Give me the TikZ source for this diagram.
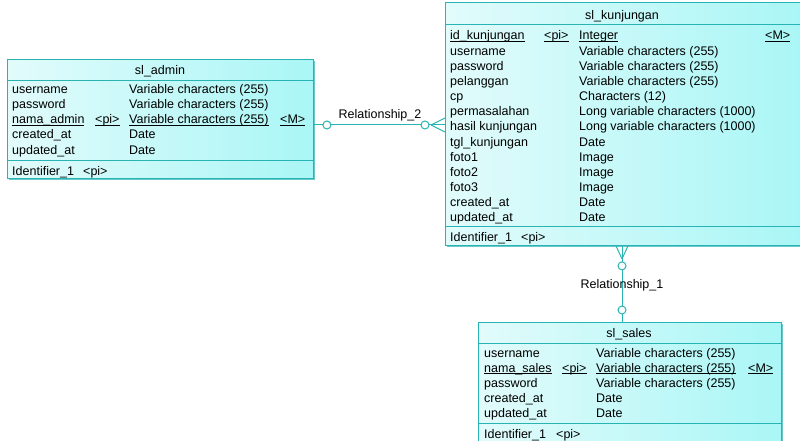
\documentclass[tikz,border=0pt]{standalone}
\usepackage{fontspec}
\setmainfont{Liberation Sans}
\usetikzlibrary{positioning,shadows}
\definecolor{erline}{RGB}{40,180,180}
\definecolor{erleft}{RGB}{226,251,251}
\definecolor{erright}{RGB}{170,246,246}
\definecolor{ershadow}{RGB}{105,200,200}
\newcommand{\keyul}[1]{\setbox0\hbox{#1}\rlap{\rule[-1.8pt]{\wd0}{0.7pt}}\box0}

\begin{document}
\begin{tikzpicture}[
    x=1pt, y=-1pt,
    entity/.style={draw=erline, line width=0.9pt, left color=erleft, right color=erright,
      anchor=north west, inner sep=0pt,
      drop shadow={shadow xshift=2pt, shadow yshift=-2pt, fill=ershadow, opacity=1}},
    sep/.style={draw=erline, line width=0.9pt},
    txt/.style={anchor=base west, inner sep=0pt, font=\fontsize{12.5}{14}\selectfont},
    ttl/.style={anchor=base, inner sep=0pt, font=\fontsize{12.5}{14}\selectfont},
    rel/.style={draw=erline, line width=1pt},
    opt/.style={circle, draw=erline, fill=white, line width=1pt, minimum size=8pt, inner sep=0pt}
  ]
    \useasboundingbox (0,0) rectangle (800,441);
    \clip (0,0) rectangle (800,441);

    % entities
    \node[entity, minimum width=306pt, minimum height=119pt] (admin) at (7,59) {};
    \node[entity, minimum width=355pt, minimum height=243pt] (kunjungan) at (445,2) {};
    \node[entity, minimum width=303pt, minimum height=125pt] (sales) at (478,322) {};

    % sl_admin
    \draw[sep] (7,80) -- (313,80);
    \draw[sep] (7,160) -- (313,160);
    \node[ttl] (admin-t) at (160,75) {sl\_admin};
    \foreach \i/\nm/\ty in {0/username/Variable characters (255), 1/password/Variable characters (255),
        3/created\_at/Date, 4/updated\_at/Date} {
      \node[txt] (admin-n\i) at (12,94+15*\i) {\nm};
      \node[txt] (admin-y\i) at (129,94+15*\i) {\ty};
    }
    \node[txt] (admin-n2) at (12,124) {\keyul{nama\_admin}};
    \node[txt] (admin-p2) at (95,124) {\keyul{<pi>}};
    \node[txt] (admin-y2) at (129,124) {\keyul{Variable characters (255)}};
    \node[txt] (admin-m2) at (280,124) {\keyul{<M>}};
    \node[txt] (admin-id) at (12,175) {Identifier\_1};
    \node[txt] (admin-ip) at (83,175) {<pi>};

    % sl_kunjungan
    \draw[sep] (445,24) -- (800,24);
    \draw[sep] (445,226) -- (800,226);
    \node[ttl] (kunj-t) at (622,20) {sl\_kunjungan};
    \node[txt] (kunj-n0) at (450,40) {\keyul{id\_kunjungan}};
    \node[txt] (kunj-p0) at (544,40) {\keyul{<pi>}};
    \node[txt] (kunj-y0) at (579,40) {\keyul{Integer}};
    \node[txt] (kunj-m0) at (765,40) {\keyul{<M>}};
    \foreach \i/\nm/\ty in {1/username/Variable characters (255), 2/password/Variable characters (255),
        3/pelanggan/Variable characters (255), 4/cp/Characters (12),
        5/permasalahan/Long variable characters (1000), 6/hasil kunjungan/Long variable characters (1000),
        7/tgl\_kunjungan/Date, 8/foto1/Image, 9/foto2/Image, 10/foto3/Image,
        11/created\_at/Date, 12/updated\_at/Date} {
      \node[txt] (kunj-n\i) at (450,40+15.15*\i) {\nm};
      \node[txt] (kunj-y\i) at (579,40+15.15*\i) {\ty};
    }
    \node[txt] (kunj-id) at (450,241) {Identifier\_1};
    \node[txt] (kunj-ip) at (521,241) {<pi>};

    % sl_sales
    \draw[sep] (478,343) -- (781,343);
    \draw[sep] (478,423) -- (781,423);
    \node[ttl] (sales-t) at (629,337) {sl\_sales};
    \foreach \i/\nm/\ty in {0/username/Variable characters (255), 2/password/Variable characters (255),
        3/created\_at/Date, 4/updated\_at/Date} {
      \node[txt] (sales-n\i) at (484,357+15*\i) {\nm};
      \node[txt] (sales-y\i) at (596,357+15*\i) {\ty};
    }
    \node[txt] (sales-n1) at (484,372) {\keyul{nama\_sales}};
    \node[txt] (sales-p1) at (562,372) {\keyul{<pi>}};
    \node[txt] (sales-y1) at (596,372) {\keyul{Variable characters (255)}};
    \node[txt] (sales-m1) at (748,372) {\keyul{<M>}};
    \node[txt] (sales-id) at (484,438) {Identifier\_1};
    \node[txt] (sales-ip) at (556,438) {<pi>};

    % Relationship_2
    \coordinate (r2) at (0,125);
    \draw[rel] (admin.east |- r2) -- (kunjungan.west |- r2);
    \coordinate (r2f) at ([xshift=-14pt]kunjungan.west |- r2);
    \draw[rel] (r2f) -- ([yshift=7pt]kunjungan.west |- r2);
    \draw[rel] (r2f) -- ([yshift=-7pt]kunjungan.west |- r2);
    \node[opt] (r2a) at ([xshift=13pt]admin.east |- r2) {};
    \node[opt] (r2k) at ([xshift=-20pt]kunjungan.west |- r2) {};
    \node[ttl] (r2-l) at (380,119) {Relationship\_2};

    % Relationship_1
    \coordinate (r1) at (622,0);
    \draw[rel] (kunjungan.south -| r1) -- (sales.north -| r1);
    \coordinate (r1f) at ([yshift=-13pt]kunjungan.south -| r1);
    \draw[rel] (r1f) -- ([xshift=-6pt]kunjungan.south -| r1);
    \draw[rel] (r1f) -- ([xshift=6pt]kunjungan.south -| r1);
    \node[opt] (r1k) at ([yshift=-20pt]kunjungan.south -| r1) {};
    \node[opt] (r1s) at ([yshift=12pt]sales.north -| r1) {};
    \node[ttl] (r1-l) at (622,288) {Relationship\_1};
  \end{tikzpicture}
\end{document}
